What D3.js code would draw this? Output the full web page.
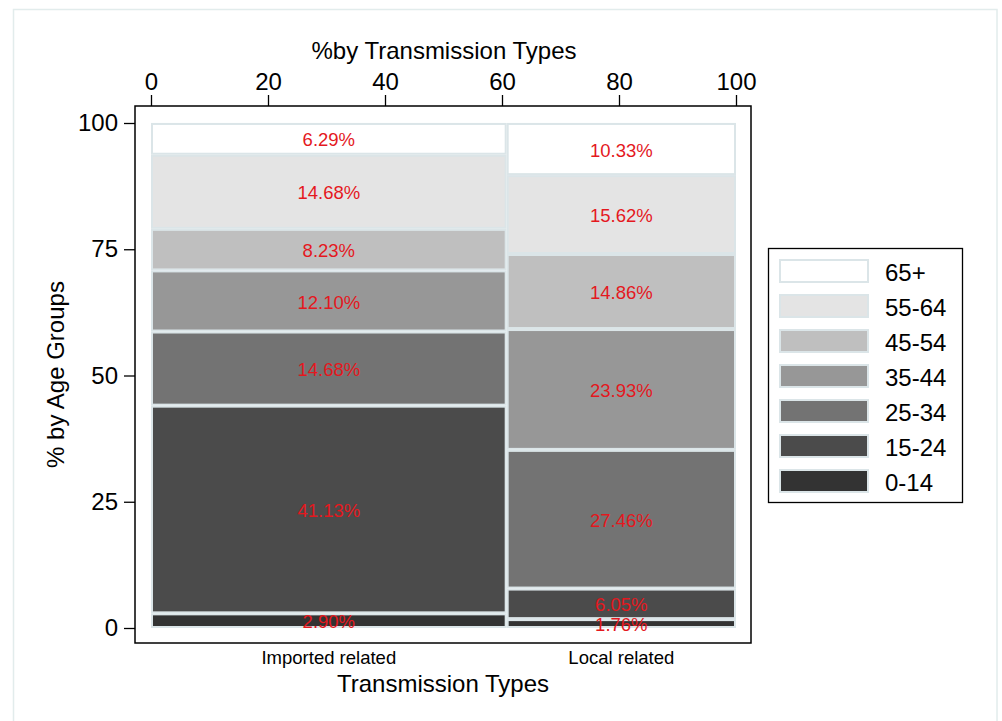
<!DOCTYPE html>
<html>
<head>
<meta charset="utf-8">
<script src="https://cdn.jsdelivr.net/npm/d3@7"></script>
<style>
  html, body { margin: 0; padding: 0; background: #fff; }
  svg { display: block; font-family: "Liberation Sans", Arial, Helvetica, sans-serif; }
</style>
</head>
<body>
<svg id="chart" width="1002" height="721"></svg>
<script>
// Age groups, bottom to top of each spine
const ageGroups = ["0-14", "15-24", "25-34", "35-44", "45-54", "55-64", "65+"];
const ageColors = ["#333333", "#4b4b4b", "#737373", "#979797", "#bfbfbf", "#e4e4e4", "#ffffff"];

// Transmission types and their share of all cases (%), sets column widths
const transmissionTypes = ["Imported related", "Local related"];
const transmissionShare = [60.8, 39.2];

// Percent of each age group within each transmission type
const importedPct = [2.90, 41.13, 14.68, 12.10, 8.23, 14.68, 6.29];
const localPct    = [1.76, 6.05, 27.46, 23.93, 14.86, 15.62, 10.33];

const topTicks = [0, 20, 40, 60, 80, 100];
const leftTicks = [0, 25, 50, 75, 100];

const svg = d3.select("#chart");

// faint outer frame
svg.append("rect")
  .attr("x", 13.5).attr("y", 9.5).attr("width", 983.5).attr("height", 730)
  .attr("fill", "none").attr("stroke", "#e2ecec").attr("stroke-width", 1.5);

const x = d3.scaleLinear().domain([0, 100]).range([151, 736]);
const y = d3.scaleLinear().domain([0, 100]).range([628, 123]);

const box = { x0: 135, y0: 106, x1: 751, y1: 643 };

// plot region border
svg.append("rect")
  .attr("x", box.x0).attr("y", box.y0)
  .attr("width", box.x1 - box.x0).attr("height", box.y1 - box.y0)
  .attr("fill", "#fff").attr("stroke", "#000").attr("stroke-width", 1.5);

// build stacked cells
const columns = [importedPct, localPct];
let xStart = 0;
const cells = [];
columns.forEach((vals, ci) => {
  const x0 = xStart, x1 = xStart + transmissionShare[ci];
  let acc = 0;
  vals.forEach((v, gi) => {
    cells.push({ col: ci, group: gi, x0, x1, y0: acc, y1: acc + v, value: v });
    acc += v;
  });
  xStart = x1;
});

svg.append("g").selectAll("rect")
  .data(cells)
  .join("rect")
  .attr("x", d => x(d.x0) + 1)
  .attr("y", d => y(d.y1) + 1)
  .attr("width", d => x(d.x1) - x(d.x0) - 2)
  .attr("height", d => Math.max(0, y(d.y0) - y(d.y1) - 2))
  .attr("fill", d => ageColors[d.group])
  .attr("stroke", "#dbe5e8")
  .attr("stroke-width", 2);

svg.append("g").selectAll("text")
  .data(cells)
  .join("text")
  .attr("x", d => (x(d.x0) + x(d.x1)) / 2)
  .attr("y", d => y((d.y0 + d.y1) / 2) + 1)
  .attr("dy", "0.36em")
  .attr("text-anchor", "middle")
  .attr("fill", "#e4181e")
  .attr("font-size", 18.5)
  .text(d => d.value.toFixed(2) + "%");

// top axis
const topAxis = svg.append("g")
  .attr("transform", `translate(0,${box.y0})`)
  .call(d3.axisTop(x).tickValues(topTicks).tickSize(11).tickPadding(5).tickFormat(d3.format("d")));
topAxis.select(".domain").remove();
topAxis.selectAll("line").attr("stroke", "#000").attr("stroke-width", 1.3);
topAxis.selectAll("text").attr("font-size", 24).attr("fill", "#000").attr("font-family", null);

// left axis
const leftAxis = svg.append("g")
  .attr("transform", `translate(${box.x0},0)`)
  .call(d3.axisLeft(y).tickValues(leftTicks).tickSize(11).tickPadding(6).tickFormat(d3.format("d")));
leftAxis.select(".domain").remove();
leftAxis.selectAll("line").attr("stroke", "#000").attr("stroke-width", 1.3);
leftAxis.selectAll("text").attr("font-size", 24).attr("fill", "#000").attr("font-family", null);

// titles
svg.append("text")
  .attr("x", 444).attr("y", 59)
  .attr("text-anchor", "middle").attr("font-size", 24)
  .text("%by Transmission Types");

svg.append("text")
  .attr("transform", `translate(64,${(box.y0 + box.y1) / 2}) rotate(-90)`)
  .attr("text-anchor", "middle").attr("font-size", 24)
  .text("% by Age Groups");

svg.append("text")
  .attr("x", 443).attr("y", 692)
  .attr("text-anchor", "middle").attr("font-size", 24)
  .text("Transmission Types");

// category labels under each column
let cStart = 0;
transmissionTypes.forEach((t, i) => {
  const mid = cStart + transmissionShare[i] / 2;
  cStart += transmissionShare[i];
  svg.append("text")
    .attr("x", x(mid)).attr("y", 664)
    .attr("text-anchor", "middle").attr("font-size", 18.5)
    .text(t);
});

// legend, oldest group first
const legend = svg.append("g");
legend.append("rect")
  .attr("x", 768.5).attr("y", 248.5).attr("width", 194).attr("height", 254)
  .attr("fill", "#fff").attr("stroke", "#000").attr("stroke-width", 1.3);

const legendOrder = d3.range(ageGroups.length).reverse();
legendOrder.forEach((gi, row) => {
  const cy = 271 + row * 35;
  legend.append("rect")
    .attr("x", 780).attr("y", cy - 11).attr("width", 88).attr("height", 22)
    .attr("fill", ageColors[gi]).attr("stroke", "#dbe5e8").attr("stroke-width", 2);
  legend.append("text")
    .attr("x", 885).attr("y", cy + 1).attr("dy", "0.36em")
    .attr("font-size", 24)
    .text(ageGroups[gi]);
});
</script>
</body>
</html>
